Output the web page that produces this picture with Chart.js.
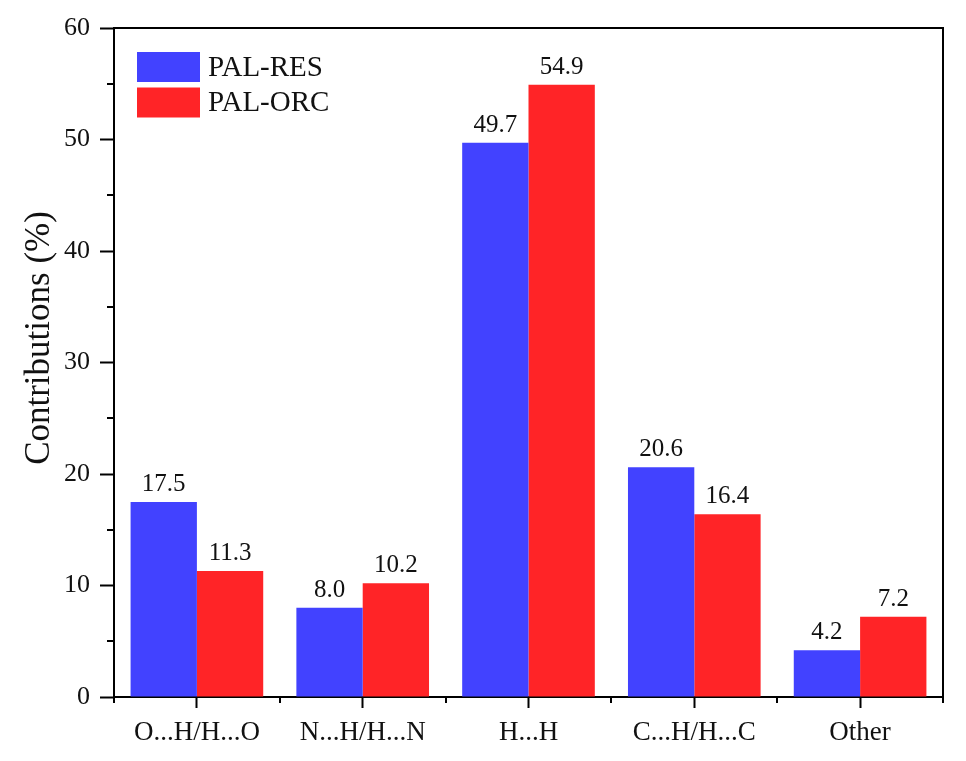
<!DOCTYPE html>
<html>
<head>
<meta charset="utf-8">
<script src="https://cdn.jsdelivr.net/npm/chart.js@4.4.0/dist/chart.umd.min.js"></script>
<style>
  html, body { margin: 0; padding: 0; background: #fff; }
  #wrap { width: 966px; height: 761px; position: relative; }
</style>
</head>
<body>
<div id="wrap"><canvas id="chart"></canvas></div>
<script>
// data
const categories = ["O...H/H...O", "N...H/H...N", "H...H", "C...H/H...C", "Other"];
const palRes = [17.5, 8.0, 49.7, 20.6, 4.2];
const palOrc = [11.3, 10.2, 54.9, 16.4, 7.2];
const seriesNames = ["PAL-RES", "PAL-ORC"];
const yTitle = "Contributions (%)";

const SERIF = "'Liberation Serif', 'Times New Roman', serif";
const BLUE = "#4242FF";
const RED = "#FF2427";

// frame, minor ticks, bar values, legend and y title
const extras = {
  id: "extras",
  afterDraw(chart) {
    const ctx = chart.ctx;
    const a = chart.chartArea;
    const ys = chart.scales.y;
    ctx.save();
    ctx.strokeStyle = "#000";
    ctx.lineWidth = 2;
    // top + right frame
    ctx.beginPath();
    ctx.moveTo(a.left, a.top);
    ctx.lineTo(a.right, a.top);
    ctx.lineTo(a.right, a.bottom);
    ctx.stroke();
    // minor y ticks
    ctx.beginPath();
    for (let v = 5; v < ys.max; v += 10) {
      const y = Math.round(ys.getPixelForValue(v));
      ctx.moveTo(a.left - 7, y);
      ctx.lineTo(a.left, y);
    }
    // category boundary ticks
    const step = (a.right - a.left) / categories.length;
    for (let i = 0; i <= categories.length; i++) {
      const x = Math.round(a.left + i * step);
      ctx.moveTo(x, a.bottom);
      ctx.lineTo(x, a.bottom + 6);
    }
    ctx.stroke();

    // value labels
    ctx.fillStyle = "#111";
    ctx.font = "25px " + SERIF;
    ctx.textAlign = "center";
    ctx.textBaseline = "alphabetic";
    chart.data.datasets.forEach((ds, i) => {
      chart.getDatasetMeta(i).data.forEach((bar, j) => {
        ctx.fillText(ds.data[j].toFixed(1), bar.x, bar.y - 11);
      });
    });

    // legend
    ctx.font = "29px " + SERIF;
    ctx.textAlign = "left";
    ctx.textBaseline = "middle";
    chart.data.datasets.forEach((ds, i) => {
      const y = 52 + i * 35.5;
      ctx.fillStyle = ds.backgroundColor;
      ctx.fillRect(137, y, 63, 30);
      ctx.fillStyle = "#111";
      ctx.fillText(ds.label, 208, y + 16);
    });

    // y title
    ctx.translate(40, 338);
    ctx.rotate(-Math.PI / 2);
    ctx.font = "35px " + SERIF;
    ctx.textAlign = "center";
    ctx.textBaseline = "middle";
    ctx.fillText(yTitle, 0, 0);
    ctx.restore();
  }
};

new Chart(document.getElementById("chart"), {
  type: "bar",
  data: {
    labels: categories,
    datasets: [
      { label: seriesNames[0], data: palRes, backgroundColor: BLUE },
      { label: seriesNames[1], data: palOrc, backgroundColor: RED }
    ]
  },
  options: {
    responsive: true,
    maintainAspectRatio: false,
    animation: false,
    layout: { padding: { top: 28, right: 23, left: 0, bottom: 0 } },
    datasets: { bar: { categoryPercentage: 0.8, barPercentage: 1.0 } },
    plugins: { legend: { display: false }, tooltip: { enabled: false } },
    scales: {
      x: {
        offset: true,
        grid: { offset: false, drawOnChartArea: false, tickLength: 11, tickWidth: 2, tickColor: "#000" },
        border: { display: true, color: "#000", width: 2 },
        ticks: { color: "#111", font: { family: SERIF, size: 27 }, padding: 9, maxRotation: 0 },
        afterFit(s) { s.height = 64; }
      },
      y: {
        min: 0,
        max: 60,
        ticks: { stepSize: 10, color: "#111", font: { family: SERIF, size: 26 }, padding: 10 },
        grid: { drawOnChartArea: false, tickLength: 14, tickWidth: 2, tickColor: "#000" },
        border: { display: true, color: "#000", width: 2 },
        afterFit(s) { s.width = 114; }
      }
    }
  },
  plugins: [extras]
});
</script>
</body>
</html>
